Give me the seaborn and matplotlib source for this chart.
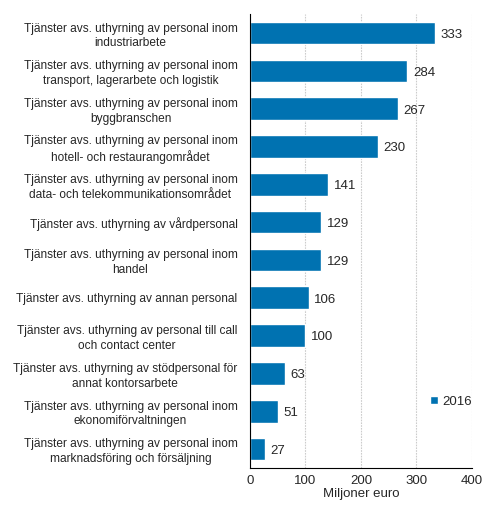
import matplotlib
matplotlib.use("Agg")
import matplotlib.pyplot as plt
import seaborn as sns
import pandas as pd

categories = [
    "Tjänster avs. uthyrning av personal inom\nindustriarbete",
    "Tjänster avs. uthyrning av personal inom\ntransport, lagerarbete och logistik",
    "Tjänster avs. uthyrning av personal inom\nbyggbranschen",
    "Tjänster avs. uthyrning av personal inom\nhotell- och restaurangområdet",
    "Tjänster avs. uthyrning av personal inom\ndata- och telekommunikationsområdet",
    "Tjänster avs. uthyrning av vårdpersonal",
    "Tjänster avs. uthyrning av personal inom\nhandel",
    "Tjänster avs. uthyrning av annan personal",
    "Tjänster avs. uthyrning av personal till call\noch contact center",
    "Tjänster avs. uthyrning av stödpersonal för\nannat kontorsarbete",
    "Tjänster avs. uthyrning av personal inom\nekonomiförvaltningen",
    "Tjänster avs. uthyrning av personal inom\nmarknadsföring och försäljning",
]
values_2016 = [333, 284, 267, 230, 141, 129, 129, 106, 100, 63, 51, 27]
series_name = "2016"
x_ticks = [0, 100, 200, 300, 400]

sns.set_style("white")
plt.rcParams["font.family"] = ["Liberation Sans", "DejaVu Sans"]

df = pd.DataFrame({"kategori": categories, "varde": values_2016, "ar": series_name})

fig = plt.figure(figsize=(4.92, 5.08), dpi=100)
ax = fig.add_axes([0.508, 0.079, 0.451, 0.893])
bar_color = "#0072B1"
sns.barplot(data=df, y="kategori", x="varde", hue="ar", palette=[bar_color],
            orient="h", width=0.6, ax=ax, saturation=1)

ax.set_xlim(0, 400)
ax.set_xticks(x_ticks)
ax.set_xlabel("Miljoner euro", fontsize=9.5, labelpad=1)
ax.set_ylabel("")
ax.tick_params(axis="x", labelsize=9.5, length=3, color="black", pad=2)
ax.tick_params(axis="y", labelsize=8.6, length=0, pad=9)
for lbl in ax.get_yticklabels():
    lbl.set_multialignment("center")
    lbl.set_linespacing(1.3)

ax.xaxis.grid(True, color="#cccccc", linestyle=(0, (1.5, 1)), linewidth=0.8)
ax.set_axisbelow(True)
for s in ["top", "right"]:
    ax.spines[s].set_visible(False)
for s in ["left", "bottom"]:
    ax.spines[s].set_color("black")
    ax.spines[s].set_linewidth(0.8)

for i, v in enumerate(values_2016):
    ax.text(v + 10, i + 0.05, str(v), va="center", ha="left", fontsize=9.5)

leg = ax.legend(loc="upper left", bbox_to_anchor=(0.76, 0.185), frameon=False,
                fontsize=9.5, handlelength=0.6, handleheight=0.6, handletextpad=0.3)

fig.savefig("out.png", dpi=100)
